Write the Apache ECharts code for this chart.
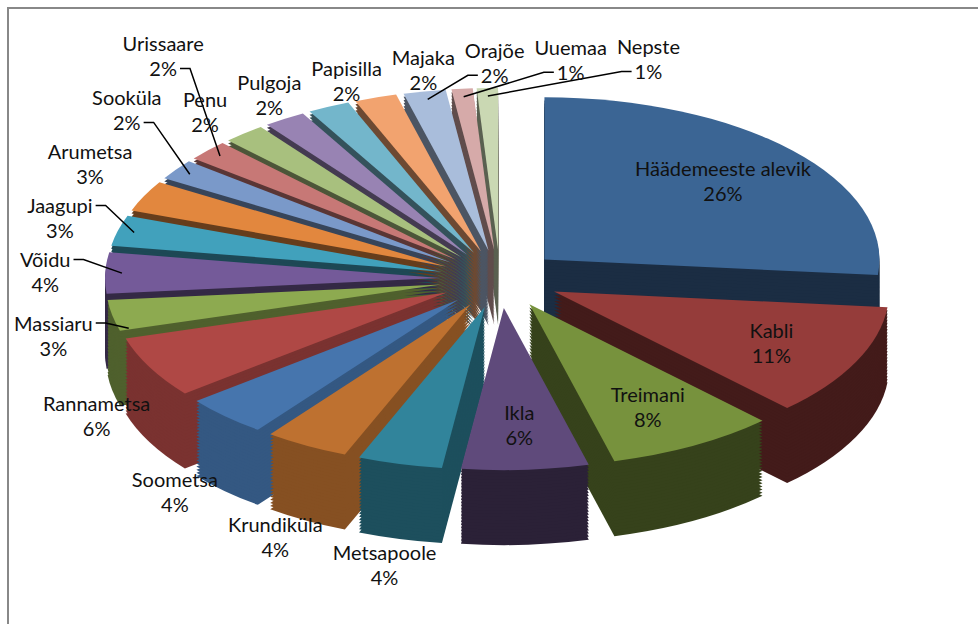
<!DOCTYPE html>
<html>
<head>
<meta charset="utf-8">
<script src="https://cdn.jsdelivr.net/npm/echarts@6/dist/echarts.min.js"></script>
<style>
  html, body { margin: 0; padding: 0; background: #fff; overflow: hidden; }
  #wrap { position: relative; width: 978px; height: 624px; overflow: hidden; }
  #pie { position: absolute; left: 0; top: 0; width: 978px; transform-origin: 0 0; }
  #labels { position: absolute; left: 0; top: 0; width: 978px; height: 624px; }
</style>
</head>
<body>
<div id="wrap"><div id="pie"></div><div id="labels"></div></div>
<script>
const names = ['Häädemeeste alevik', 'Kabli', 'Treimani', 'Ikla', 'Metsapoole', 'Krundiküla', 'Soometsa',
  'Rannametsa', 'Massiaru', 'Võidu', 'Jaagupi', 'Arumetsa', 'Sooküla', 'Urissaare', 'Penu', 'Pulgoja',
  'Papisilla', 'Majaka', 'Orajõe', 'Uuemaa', 'Nepste'];
const values = [26, 11, 8, 6, 4, 4, 4, 6, 3, 4, 3, 3, 2, 2, 2, 2, 2, 2, 2, 1, 1];
const colors = ['#3b6594', '#953c3a', '#77923d', '#5f4a7b', '#31849b', '#be7130', '#4675ad',
  '#af4845', '#8daa50', '#745a99', '#41a1bc', '#e2873e', '#7a99c9', '#c77876', '#a8c07e', '#9883b3',
  '#73b6cb', '#f2a36f', '#a9bddb', '#d6aaa9', '#cad8b3'];
const insideNames = ['Häädemeeste alevik', 'Kabli', 'Treimani', 'Ikla'];

// tilted disc: drawn as a flat pie, squashed vertically with css
const K = 0.484;          // vertical squash
const CX = 500, CY = 279; // centre on screen
const R = 335;            // pie radius (unsquashed px)
const EXPLODE = 60;       // slice offset
const DEPTH = 75;         // thickness on screen
const LAYERS = 24;
const LABEL_R = 455, INSIDE_F = 0.72;
const FONT = 'Lato', FONT_SIZE = 20, LINE_H = 25, GAP = 4;

function shade(hex, f) {
  const n = parseInt(hex.slice(1), 16);
  const c = [(n >> 16) & 255, (n >> 8) & 255, n & 255].map(v => Math.min(255, Math.round(v * f)));
  return `rgb(${c[0]},${c[1]},${c[2]})`;
}

// mid-angle direction of every slice (clockwise from top)
const total = values.reduce((s, v) => s + v, 0);
let acc = 0;
const dirs = values.map(v => {
  const a = (acc + v / 2) / total * 2 * Math.PI;
  acc += v;
  return [Math.sin(a), -Math.cos(a)];
});

// ---- pie body (squashed) ----
const pieDiv = document.getElementById('pie');
pieDiv.style.height = Math.ceil(624 / K) + 'px';
pieDiv.style.transform = `scaleY(${K})`;
const body = echarts.init(pieDiv, null, {renderer: 'svg'});

// light comes from the front left, so those walls are brighter
const sideShade = dirs.map(([sx, sy]) => 0.45 + 0.6 * Math.max(0, sy) * Math.max(0, -sx));
const topData = names.map((n, i) => ({name: n, value: values[i], selected: true, itemStyle: {color: colors[i]}}));
const sideData = names.map((n, i) => ({name: n, value: values[i], selected: true, itemStyle: {color: shade(colors[i], sideShade[i])}}));
const base = {
  type: 'pie', radius: R, startAngle: 90, selectedMode: 'multiple', selectedOffset: EXPLODE,
  label: {show: false}, labelLine: {show: false}, silent: true,
  emphasis: {disabled: true}, select: {itemStyle: {borderWidth: 0}},
  itemStyle: {borderWidth: 0}
};
const bodySeries = [];
for (let j = LAYERS; j >= 1; j--) {
  bodySeries.push({...base, center: [CX, CY / K + j * DEPTH / K / LAYERS], data: sideData});
}
bodySeries.push({...base, center: [CX, CY / K], data: topData});
body.setOption({animation: false, series: bodySeries});

// ---- labels (unsquashed, placed on the ellipse) ----
const ctx = document.createElement('canvas').getContext('2d');
ctx.font = FONT_SIZE + 'px ' + FONT;
const placed = [];
const layouts = names.map((n, i) => {
  const [sx, sy] = dirs[i];
  if (insideNames.includes(n)) {
    const d = EXPLODE + INSIDE_F * R;
    const x = CX + d * sx, y = CY + K * d * sy;
    return {x, y, align: 'center', verticalAlign: 'middle', labelLinePoints: [[x, y], [x, y], [x, y]]};
  }
  const w = Math.max(ctx.measureText(n).width, ctx.measureText(values[i] + '%').width) + 6;
  const h = 2 * LINE_H;
  let x = CX + LABEL_R * sx;
  let y = CY + K * LABEL_R * sy + DEPTH * Math.max(0, sy);
  for (let it = 0; it < 60; it++) {
    const hit = placed.find(b => Math.abs(b.x - x) < (b.w + w) / 2 + GAP && Math.abs(b.y - y) < (b.h + h) / 2 + GAP);
    if (!hit) break;
    const upY = hit.y - hit.h / 2 - GAP - h / 2;
    if (sy < 0 && Math.abs(sx) > 0.6 && upY - h / 2 >= 30) y = upY;
    else if (sy < 0) x = hit.x + hit.w / 2 + GAP + w / 2;
    else x = hit.x - hit.w / 2 - GAP - w / 2;
  }
  placed.push({x, y, w, h});
  const da = EXPLODE + 0.95 * R;
  const ax = CX + da * sx, ay = CY + K * da * sy + DEPTH * Math.max(0, sy);
  const gx = Math.max(x - w / 2 - ax, 0, ax - x - w / 2);
  const gy = Math.max(y - h / 2 - ay, 0, ay - y - h / 2);
  let pts = [[x, y], [x, y], [x, y]];
  if (Math.hypot(gx, gy) > 30) {
    // leave from the text line nearest to the slice
    const ly = ay > y + h / 2 ? y + LINE_H / 2 : y - LINE_H / 2;
    const tw = ay > y + h / 2 ? ctx.measureText(values[i] + '%').width + 6 : w;
    pts = ax >= x
      ? [[x + tw / 2, ly], [x + tw / 2 + 10, ly], [ax, ay]]
      : [[x - tw / 2, ly], [x - tw / 2 - 10, ly], [ax, ay]];
  }
  return {x, y, align: 'center', verticalAlign: 'middle', labelLinePoints: pts};
});

const labels = echarts.init(document.getElementById('labels'), null, {renderer: 'svg'});
labels.setOption({
  animation: false,
  graphic: [{
    type: 'rect', shape: {x: 8, y: 8, width: 1000, height: 700},
    style: {fill: 'none', stroke: '#888', lineWidth: 2}, silent: true
  }],
  series: [{
    type: 'pie', center: [CX, CY], radius: 40, startAngle: 90, silent: true,
    itemStyle: {color: 'rgba(0,0,0,0)'},
    emphasis: {disabled: true},
    label: {
      show: true, position: 'outside', formatter: '{b}\n{c}%', overflow: 'none',
      fontFamily: FONT, fontSize: FONT_SIZE, lineHeight: LINE_H, color: '#111'
    },
    labelLine: {show: true, length: 5, length2: 5, lineStyle: {color: '#000', width: 1.5}},
    labelLayout: p => layouts[p.dataIndex],
    data: names.map((n, i) => ({name: n, value: values[i]}))
  }]
});
</script>
</body>
</html>
